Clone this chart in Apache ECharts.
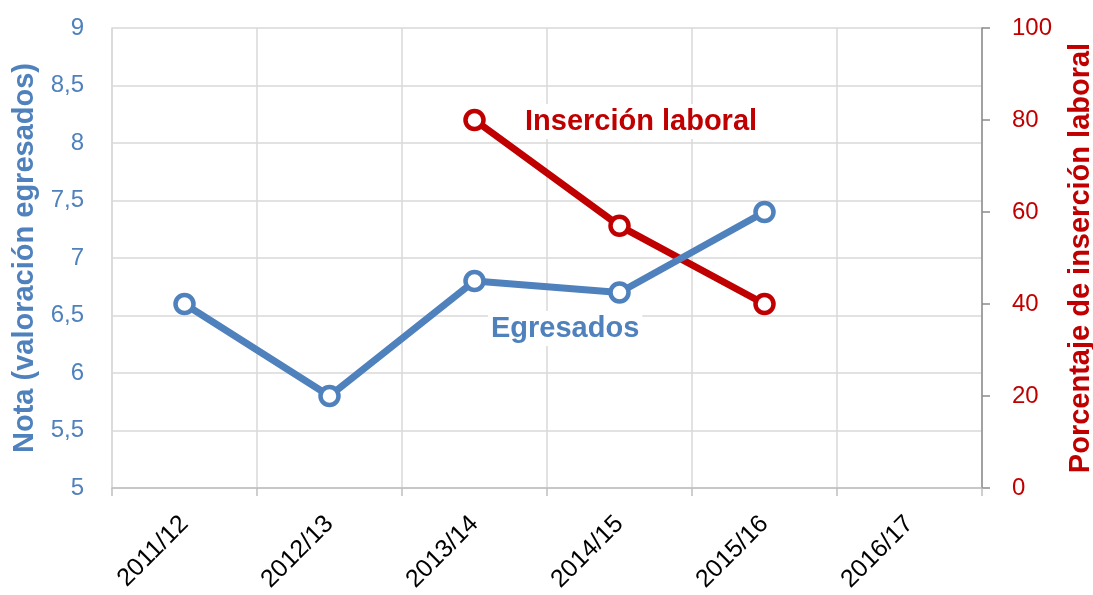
<!DOCTYPE html>
<html>
<head>
<meta charset="utf-8">
<script src="https://cdn.jsdelivr.net/npm/echarts@6/dist/echarts.min.js"></script>
<style>
  html, body { margin: 0; padding: 0; background: #fff; }
  #main { width: 1093px; height: 595px; }
</style>
</head>
<body>
<div id="main"></div>
<script>
// datos
var cursos = ["2011/12", "2012/13", "2013/14", "2014/15", "2015/16", "2016/17"];
var egresados = [6.6, 5.8, 6.8, 6.7, 7.4, null];
var insercion = [null, null, 80, 57, 40, null];

var azul = "#4f81bd";
var rojo = "#c00000";
var fuente = "Liberation Sans, Arial, sans-serif";

var myChart = echarts.init(document.getElementById("main"));
var option = {
  animation: false,
  textStyle: { fontFamily: fuente },
  grid: { left: 112, right: 111, top: 28, bottom: 107, containLabel: false, outerBoundsMode: "none" },
  xAxis: {
    type: "category",
    data: cursos,
    boundaryGap: true,
    axisLine: { lineStyle: { color: "#bfbfbf", width: 1.5 } },
    axisTick: { show: true, length: 8, lineStyle: { color: "#bfbfbf", width: 1.5 } },
    splitLine: { show: true, lineStyle: { color: "#d9d9d9", width: 1.5 } },
    axisLabel: { rotate: 45, color: "#000", fontSize: 25, margin: 32 }
  },
  yAxis: [
    {
      type: "value",
      min: 5,
      max: 9,
      interval: 0.5,
      name: "Nota (valoración egresados)",
      nameLocation: "middle",
      nameGap: 68,
      nameTextStyle: { color: azul, fontSize: 29, fontWeight: "bold" },
      axisLine: { show: true, lineStyle: { color: "#d9d9d9", width: 1.5 } },
      axisTick: { show: false },
      splitLine: { lineStyle: { color: "#d9d9d9", width: 1.5 } },
      axisLabel: {
        color: azul,
        fontSize: 24,
        margin: 28,
        formatter: function (v) { return String(v).replace(".", ","); }
      }
    },
    {
      type: "value",
      min: 0,
      max: 100,
      interval: 20,
      position: "right",
      name: "Porcentaje de inserción laboral",
      nameLocation: "middle",
      nameGap: 84,
      nameRotate: 90,
      nameTextStyle: { color: rojo, fontSize: 29, fontWeight: "bold" },
      axisLine: { show: true, lineStyle: { color: "#8c8c8c", width: 1.5 } },
      axisTick: { show: true, length: 8, lineStyle: { color: "#8c8c8c", width: 1.5 } },
      splitLine: { show: false },
      axisLabel: { color: rojo, fontSize: 24, margin: 30 }
    }
  ],
  series: [
    {
      name: "Egresados",
      type: "line",
      yAxisIndex: 0,
      data: egresados,
      symbol: "circle",
      symbolSize: 18,
      lineStyle: { color: azul, width: 7 },
      itemStyle: { color: "#fff", borderColor: azul, borderWidth: 4.5 },
      z: 3
    },
    {
      name: "Inserción laboral",
      type: "line",
      yAxisIndex: 1,
      data: insercion,
      symbol: "circle",
      symbolSize: 18,
      lineStyle: { color: rojo, width: 7 },
      itemStyle: { color: "#fff", borderColor: rojo, borderWidth: 4.5 },
      z: 2
    }
  ],
  graphic: [
    {
      type: "text",
      left: 522,
      top: 104,
      z: 1,
      style: {
        text: "Inserción laboral", fill: rojo, fontSize: 29, fontWeight: "bold", fontFamily: fuente,
        backgroundColor: "#fff", padding: [3, 3]
      }
    },
    {
      type: "text",
      left: 488,
      top: 311,
      z: 1,
      style: {
        text: "Egresados", fill: azul, fontSize: 29, fontWeight: "bold", fontFamily: fuente,
        backgroundColor: "#fff", padding: [3, 3]
      }
    }
  ]
};
myChart.setOption(option);
</script>
</body>
</html>
